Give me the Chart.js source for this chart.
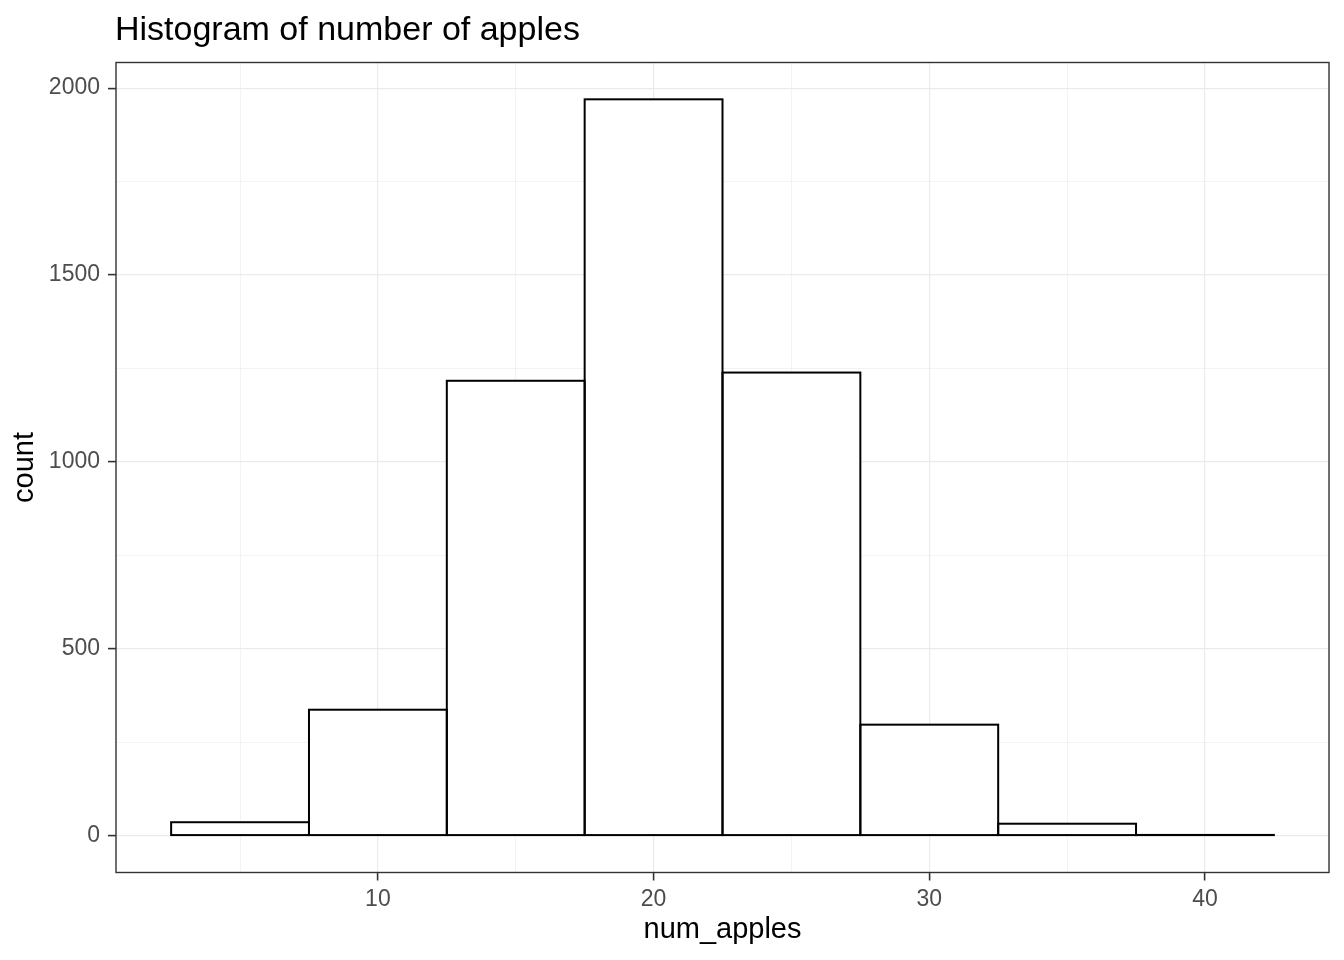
<!DOCTYPE html>
<html>
<head>
<meta charset="utf-8">
<title>Histogram of number of apples</title>
<script src="https://cdn.jsdelivr.net/npm/chart.js@4.4.1/dist/chart.umd.min.js"></script>
<style>
  html, body { margin: 0; padding: 0; background: #fff; }
  #wrap { width: 1344px; height: 960px; }
</style>
</head>
<body>
<div id="wrap"><canvas id="myChart"></canvas></div>
<script>
// histogram bins (centre of each bin) and their counts
const binCenters = [5, 10, 15, 20, 25, 30, 35, 40];
const counts = [36, 337, 1217, 1970, 1239, 297, 32, 2];
const binWidth = 5;

const xMajorTicks = [10, 20, 30, 40];
const xMinorTicks = [5, 15, 25, 35];
const yMajorTicks = [0, 500, 1000, 1500, 2000];
const yMinorTicks = [250, 750, 1250, 1750];

const titleText = 'Histogram of number of apples';
const xTitle = 'num_apples';
const yTitle = 'count';

const FONT = '"Liberation Sans", Arial, Helvetica, sans-serif';

// ggplot style 5% expansion of the data range
const xLo = binCenters[0] - binWidth / 2;
const xHi = binCenters[binCenters.length - 1] + binWidth / 2;
const xPad = (xHi - xLo) * 0.05;
const yHi = Math.max(...counts);
const yPad = yHi * 0.05;

function tickList(major, minor) {
  return major.concat(minor).sort((a, b) => a - b).map(v => ({ value: v }));
}

// outlines of the bars (centred like ggplot), panel border and plot title
const ggFrame = {
  id: 'ggFrame',
  afterDatasetsDraw(chart) {
    const ctx = chart.ctx;
    const a = chart.chartArea;
    const meta = chart.getDatasetMeta(0);
    ctx.save();
    ctx.strokeStyle = '#000000';
    ctx.lineWidth = 2;
    meta.data.forEach(bar => {
      const p = bar.getProps(['x', 'y', 'base', 'width'], true);
      ctx.strokeRect(p.x - p.width / 2, p.y, p.width, p.base - p.y);
    });
    ctx.strokeStyle = '#333333';
    ctx.lineWidth = 1.4;
    ctx.strokeRect(a.left, a.top, a.right - a.left, a.bottom - a.top);
    ctx.fillStyle = '#000000';
    ctx.font = '34px ' + FONT;
    ctx.textAlign = 'left';
    ctx.textBaseline = 'alphabetic';
    ctx.fillText(titleText, a.left - 1, 40);
    ctx.restore();
  }
};

const ctx = document.getElementById('myChart');

new Chart(ctx, {
  type: 'bar',
  data: {
    datasets: [{
      label: yTitle,
      data: binCenters.map((c, i) => ({ x: c, y: counts[i] })),
      backgroundColor: '#ffffff',
      borderWidth: 0,
      barPercentage: 1,
      categoryPercentage: 1
    }]
  },
  options: {
    responsive: true,
    maintainAspectRatio: false,
    animation: false,
    layout: { padding: { top: 62.5, right: 15, bottom: 0, left: 0 } },
    plugins: {
      legend: { display: false },
      tooltip: { enabled: false },
      title: { display: false }
    },
    scales: {
      x: {
        type: 'linear',
        offset: false,
        min: xLo - xPad,
        max: xHi + xPad,
        afterBuildTicks: axis => { axis.ticks = tickList(xMajorTicks, xMinorTicks); },
        afterFit: axis => { axis.height = 87.5; },
        border: { display: false },
        grid: {
          offset: false,
          color: '#EBEBEB',
          lineWidth: c => xMajorTicks.includes(c.tick && c.tick.value) ? 1.2 : 0.6,
          tickColor: c => xMajorTicks.includes(c.tick && c.tick.value) ? '#333333' : 'rgba(0,0,0,0)',
          tickWidth: 1.6,
          tickLength: 8
        },
        ticks: {
          autoSkip: false,
          maxRotation: 0,
          padding: 5,
          color: '#4D4D4D',
          font: { size: 23, family: FONT, lineHeight: 1.2 },
          callback: v => xMajorTicks.includes(v) ? String(v) : ''
        },
        title: {
          display: true,
          text: xTitle,
          color: '#000000',
          font: { size: 29, family: FONT, lineHeight: 1.2 },
          padding: { top: 0, bottom: 13 }
        }
      },
      y: {
        type: 'linear',
        min: -yPad,
        max: yHi + yPad,
        afterBuildTicks: axis => { axis.ticks = tickList(yMajorTicks, yMinorTicks); },
        afterFit: axis => { axis.width = 116; },
        border: { display: false },
        grid: {
          color: '#EBEBEB',
          lineWidth: c => yMajorTicks.includes(c.tick && c.tick.value) ? 1.2 : 0.6,
          tickColor: c => yMajorTicks.includes(c.tick && c.tick.value) ? '#333333' : 'rgba(0,0,0,0)',
          tickWidth: 1.6,
          tickLength: 8
        },
        ticks: {
          autoSkip: false,
          padding: 8,
          color: '#4D4D4D',
          font: { size: 23, family: FONT, lineHeight: 1.2 },
          callback: v => yMajorTicks.includes(v) ? String(v) : ''
        },
        title: {
          display: true,
          text: yTitle,
          color: '#000000',
          font: { size: 29, family: FONT, lineHeight: 1.2 },
          padding: { top: 8, bottom: 0 }
        }
      }
    }
  },
  plugins: [ggFrame]
});
</script>
</body>
</html>
